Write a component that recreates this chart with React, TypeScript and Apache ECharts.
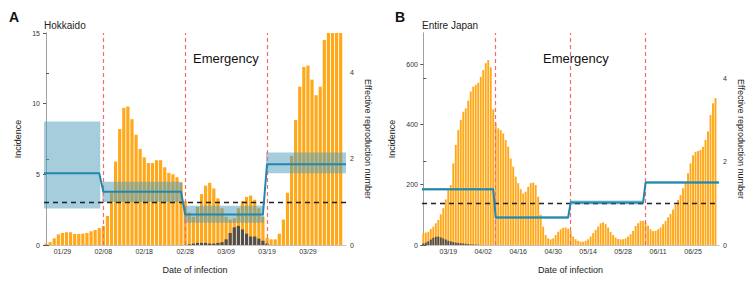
import React, { useEffect, useRef } from 'react';
import * as echarts from 'echarts';

const FONT = '"Liberation Sans", Arial, Helvetica, sans-serif';

// ---------- Panel A: Hokkaido ----------
const startA: [number, number, number] = [2020, 1, 25];
const incidenceA = [
  0.1, 0.2, 0.47, 0.75, 0.85, 0.9, 0.9, 0.78, 0.78, 0.8, 0.85, 0.97, 1.06, 1.2,
  1.35, 2.05, 3.7, 5.9, 8.2, 9.7, 9.8, 8.9, 7.8, 6.8, 6.2, 5.8, 5.8, 6.0, 6.0, 5.5,
  5.1, 5.0, 4.8, 4.4, 3.1, 2.3, 2.0, 2.7, 3.6, 4.2, 4.4, 4.0, 3.3, 2.6, 2.0, 1.8,
  1.9, 2.6, 3.1, 3.4, 3.5, 3.2, 2.6, 2.0, 0.5, 0.4, 0.4, 0.8, 1.8, 3.7, 6.3, 8.85,
  11.2, 12.6, 12.7, 11.7, 10.6, 11.2, 14.5, 16, 17, 18, 17,
];
const importedA = [
  0, 0, 0, 0, 0, 0, 0, 0, 0, 0, 0, 0, 0, 0, 0, 0, 0, 0, 0, 0, 0, 0, 0, 0, 0, 0, 0, 0,
  0, 0, 0, 0, 0, 0, 0, 0.05, 0.1, 0.15, 0.15, 0.15, 0.1, 0.1, 0.15, 0.2, 0.4, 0.85,
  1.25, 1.35, 1.1, 0.8, 0.6, 0.6, 0.45, 0.3, 0.1, 0, 0, 0, 0, 0, 0, 0, 0, 0, 0, 0, 0,
  0, 0, 0, 0, 0, 0,
];
const ticksA = ['01/29', '02/08', '02/18', '02/28', '03/09', '03/19', '03/29'];
const emergencyA = ['02/08', '02/28', '03/19'];
const periodStartA = ['01/25', '02/08', '02/28', '03/19'];
const rtA = [1.67, 1.24, 0.71, 1.88];
const rtLoA = [0.85, 1.0, 0.52, 1.67];
const rtHiA = [2.87, 1.47, 0.91, 2.15];

// ---------- Panel B: Entire Japan ----------
const startB: [number, number, number] = [2020, 3, 9];
const incidenceB = [
  39, 41, 44, 53, 61, 72, 83, 102, 122, 151, 182, 199, 271, 332, 381, 415, 442, 453,
  479, 509, 525, 531, 538, 558, 580, 603, 613, 589, 450, 404, 387, 381, 370, 348, 326,
  287, 260, 227, 205, 185, 171, 177, 193, 205, 207, 199, 160, 100, 61, 33, 22, 19, 22,
  33, 44, 52, 57, 58, 54, 47, 28, 19, 14, 11, 11, 14, 19, 28, 39, 50, 61, 72, 75, 69,
  58, 43, 33, 25, 20, 19, 19, 22, 28, 36, 47, 63, 72, 80, 80, 75, 64, 52, 46, 47, 52,
  58, 69, 80, 92, 103, 118, 133, 149, 166, 188, 210, 238, 271, 298, 309, 312, 315,
  326, 348, 376, 431, 470, 487,
];
const importedB = [
  5, 8, 12, 18, 24, 27, 28, 25, 22, 18, 14, 12, 10, 8, 7, 6, 5, 4, 3, 2, 2, 1, 1,
];
const ticksB = ['03/19', '04/02', '04/16', '04/30', '05/14', '05/28', '06/11', '06/25'];
const emergencyB = ['04/07', '05/07', '06/06'];
const periodStartB = ['03/09', '04/07', '05/07', '06/06'];
const rtB = [1.34, 0.66, 1.02, 1.5];
const rtLoB = [1.31, 0.63, 0.97, 1.47];
const rtHiB = [1.37, 0.69, 1.07, 1.53];

function pad(n: number) {
  return n < 10 ? '0' + n : '' + n;
}
function makeDates(start: [number, number, number], n: number): string[] {
  const out: string[] = [];
  const d = new Date(Date.UTC(start[0], start[1] - 1, start[2]));
  for (let i = 0; i < n; i++) {
    out.push(pad(d.getUTCMonth() + 1) + '/' + pad(d.getUTCDate()));
    d.setUTCDate(d.getUTCDate() + 1);
  }
  return out;
}

interface PanelCfg {
  g: number;
  dates: string[];
  inc: number[];
  imp: number[];
  ticks: string[];
  emergency: string[];
  periods: string[];
  rt: number[];
  lo: number[];
  hi: number[];
  xMin: number;
  xMax: number;
  yMaxL: number;
  yMaxR: number;
  leftTicks: number[];
  barWidth: number;
  leftDashed: boolean;
  leftGap: number;
  rightGap: number;
}

const ORANGE = '#FFA81A';
const GREY = '#4f4f4f';
const BLUE = '#2088ad';
const BAND = 'rgba(75,155,185,0.5)';
const RED = '#F26B6E';
const AX = '#a0a0a0';

function buildPanel(c: PanelCfg) {
  const xb = c.g * 2;
  const yl = c.g * 2;
  const yr = c.g * 2 + 1;
  const idx = (s: string) => c.dates.indexOf(s);
  const starts = c.periods.map(idx);
  const nDays = c.dates.length;
  const periodOf = (k: number) => {
    let p = 0;
    for (let i = 0; i < starts.length; i++) if (k >= starts[i]) p = i;
    return p;
  };
  const tickIdx = c.ticks.map(idx);
  const xAxes = [
    {
      type: 'value',
      gridIndex: c.g,
      position: 'bottom',
      min: c.xMin,
      max: c.xMax,
      axisLine: { show: false },
      axisTick: { show: false },
      splitLine: { show: false },
      axisLabel: {
        customValues: tickIdx,
        formatter: (v: number) => c.dates[Math.round(v)] || '',
        fontSize: 7,
        color: '#333',
        margin: 3,
        fontFamily: FONT,
      },
      name: 'Date of infection',
      nameLocation: 'middle',
      nameGap: 20,
      nameTextStyle: { fontSize: 9, color: '#222', fontFamily: FONT },
    },
    {
      type: 'value',
      gridIndex: c.g,
      position: 'top',
      min: c.xMin,
      max: c.xMax,
      axisLine: { show: true, lineStyle: { color: '#c4c4c4', width: 1 } },
      axisTick: { show: false },
      axisLabel: { show: false },
      splitLine: { show: false },
    },
  ];
  const yAxes = [
    {
      type: 'value',
      gridIndex: c.g,
      position: 'left',
      min: 0,
      max: c.yMaxL,
      axisLine: {
        show: true,
        lineStyle: { color: AX, width: 1, type: c.leftDashed ? [4, 3] : 'solid' },
      },
      axisTick: { show: true, length: 3, customValues: c.leftTicks, lineStyle: { color: '#555' } },
      axisLabel: {
        customValues: c.leftTicks,
        fontSize: 7,
        color: '#333',
        margin: 4,
        fontFamily: FONT,
      },
      splitLine: { show: false },
      name: 'Incidence',
      nameLocation: 'middle',
      nameGap: c.leftGap,
      nameTextStyle: { fontSize: 9, color: '#222', fontFamily: FONT },
    },
    {
      type: 'value',
      gridIndex: c.g,
      position: 'right',
      min: 0,
      max: c.yMaxR,
      axisLine: { show: true, lineStyle: { color: AX, width: 1 } },
      axisTick: { show: true, length: 3, customValues: [0, 2, 4], lineStyle: { color: '#555' } },
      axisLabel: {
        customValues: [0, 2, 4],
        fontSize: 7,
        color: '#333',
        margin: 4,
        fontFamily: FONT,
      },
      splitLine: { show: false },
      name: 'Effective reproduction number',
      nameLocation: 'middle',
      nameRotate: -90,
      nameGap: c.rightGap,
      nameTextStyle: { fontSize: 9, color: '#222', fontFamily: FONT },
    },
  ];

  const bandData = c.rt.map((_, i) => {
    const x0 = i === 0 ? c.xMin : starts[i] - 0.25;
    const x1 = i === starts.length - 1 ? c.xMax : starts[i + 1] - 0.75;
    return [x0, x1, c.lo[i], c.hi[i]];
  });

  const lineData: number[][] = [[c.xMin, c.rt[0]]];
  for (let k = 0; k < nDays; k++) lineData.push([k, c.rt[periodOf(k)]]);
  lineData.push([c.xMax, c.rt[c.rt.length - 1]]);

  const series = [
    {
      type: 'bar',
      xAxisIndex: xb,
      yAxisIndex: yl,
      data: c.inc.map((v, i) => [i, v]),
      barWidth: c.barWidth,
      barGap: '-100%',
      itemStyle: { color: ORANGE },
      z: 2,
      silent: true,
    },
    {
      type: 'bar',
      xAxisIndex: xb,
      yAxisIndex: yl,
      data: c.imp.map((v, i) => [i, v]),
      barWidth: c.barWidth,
      barGap: '-100%',
      itemStyle: { color: GREY },
      z: 3,
      silent: true,
    },
    {
      type: 'custom',
      xAxisIndex: xb,
      yAxisIndex: yr,
      coordinateSystem: 'cartesian2d',
      data: bandData,
      encode: { x: [0, 1], y: [2, 3] },
      clip: true,
      z: 4,
      silent: true,
      renderItem: (params: any, api: any) => {
        const p0 = api.coord([api.value(0), api.value(3)]);
        const p1 = api.coord([api.value(1), api.value(2)]);
        return {
          type: 'rect',
          shape: { x: p0[0], y: p0[1], width: p1[0] - p0[0], height: p1[1] - p0[1] },
          style: { fill: BAND },
        };
      },
    },
    {
      type: 'line',
      xAxisIndex: xb,
      yAxisIndex: yr,
      data: lineData,
      symbol: 'none',
      lineStyle: { color: BLUE, width: 2 },
      z: 5,
      silent: true,
      markLine: {
        silent: true,
        symbol: ['none', 'none'],
        label: { show: false },
        data: [
          { yAxis: 1, lineStyle: { color: '#222', type: [5, 4], width: 1.3 } },
          ...c.emergency.map((s) => ({
            xAxis: idx(s),
            lineStyle: { color: RED, type: [4, 3], width: 1.2 },
          })),
        ],
      },
    },
  ];
  return { xAxes, yAxes, series };
}

export default function App() {
  const ref = useRef<HTMLDivElement>(null);
  useEffect(() => {
    if (!ref.current) return;
    const chart = echarts.init(ref.current, null, { renderer: 'svg', width: 752, height: 282 });
    const datesA = makeDates(startA, incidenceA.length);
    const datesB = makeDates(startB, incidenceB.length);
    const pA = buildPanel({
      g: 0,
      dates: datesA,
      inc: incidenceA,
      imp: importedA,
      ticks: ticksA,
      emergency: emergencyA,
      periods: periodStartA,
      rt: rtA,
      lo: rtLoA,
      hi: rtHiA,
      xMin: -0.5,
      xMax: 73.3,
      yMaxL: 15,
      yMaxR: 4.93,
      leftTicks: [0, 5, 10, 15],
      barWidth: 3.2,
      leftDashed: false,
      leftGap: 22,
      rightGap: 17,
    });
    const pB = buildPanel({
      g: 1,
      dates: datesB,
      inc: incidenceB,
      imp: importedB,
      ticks: ticksB,
      emergency: emergencyB,
      periods: periodStartB,
      rt: rtB,
      lo: rtLoB,
      hi: rtHiB,
      xMin: -0.52,
      xMax: 118.4,
      yMaxL: 703,
      yMaxR: 5.09,
      leftTicks: [0, 200, 400, 600],
      barWidth: 1.9,
      leftDashed: true,
      leftGap: 26,
      rightGap: 17,
    });
    chart.setOption({
      animation: false,
      grid: [
        { left: 44, top: 33, width: 302, height: 212, containLabel: false },
        { left: 422, top: 33, width: 297, height: 212, containLabel: false },
      ],
      xAxis: [...pA.xAxes, ...pB.xAxes],
      yAxis: [...pA.yAxes, ...pB.yAxes],
      series: [...pA.series, ...pB.series],
      graphic: [
        { type: 'text', left: 9, top: 10, style: { text: 'A', fontSize: 14, fontWeight: 'bold', fill: '#111', fontFamily: FONT } },
        { type: 'text', left: 44, top: 20, style: { text: 'Hokkaido', fontSize: 10, fill: '#222', fontFamily: FONT } },
        { type: 'text', left: 395, top: 10, style: { text: 'B', fontSize: 14, fontWeight: 'bold', fill: '#111', fontFamily: FONT } },
        { type: 'text', left: 422, top: 20, style: { text: 'Entire Japan', fontSize: 10, fill: '#222', fontFamily: FONT } },
        { type: 'text', left: 193, top: 52, style: { text: 'Emergency', fontSize: 13, fill: '#111', fontFamily: FONT } },
        { type: 'text', left: 543, top: 52, style: { text: 'Emergency', fontSize: 13, fill: '#111', fontFamily: FONT } },
      ],
    });
    return () => chart.dispose();
  }, []);
  return (
    <div
      ref={ref}
      style={{ position: 'fixed', left: 0, top: 0, width: 752, height: 282, background: '#fff' }}
    />
  );
}
